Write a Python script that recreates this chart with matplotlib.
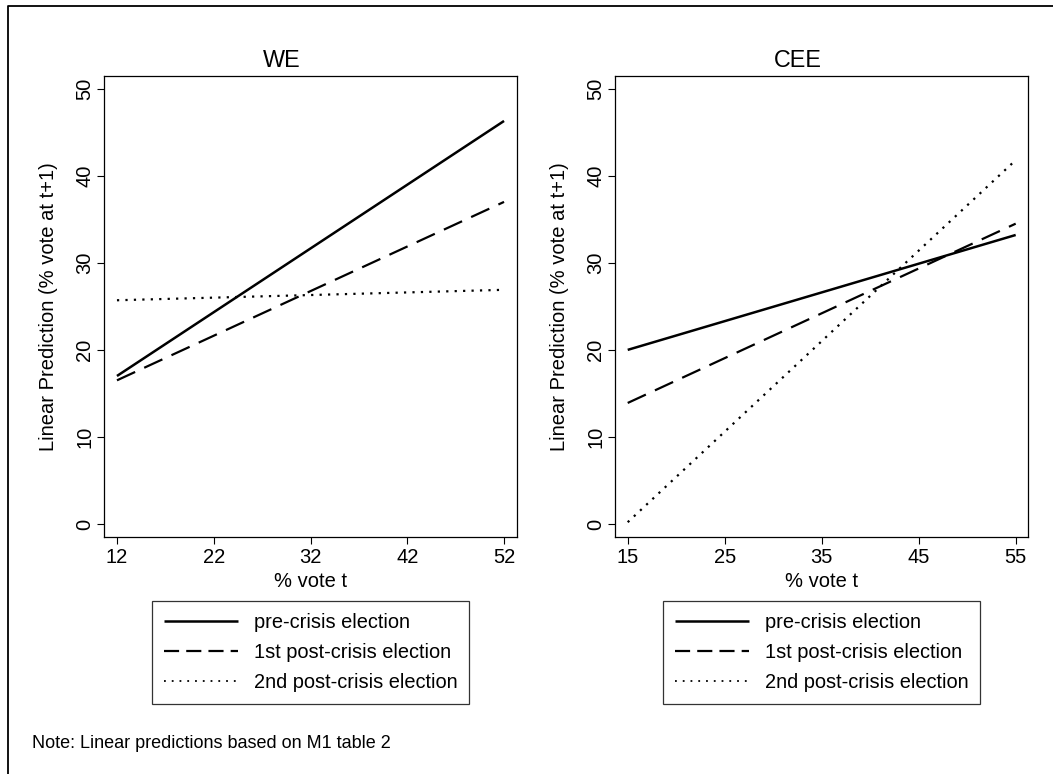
import matplotlib.pyplot as plt
from matplotlib.lines import Line2D

plt.rcParams['font.family'] = ['Liberation Sans', 'DejaVu Sans']

# data (line end points)
we_x = [12, 52]
we_pre = [17.0, 46.3]
we_post1 = [16.5, 37.0]
we_post2 = [25.7, 26.9]

cee_x = [15, 55]
cee_pre = [20.0, 33.2]
cee_post1 = [13.9, 34.5]
cee_post2 = [0.2, 41.8]

we_ticks = [12, 22, 32, 42, 52]
cee_ticks = [15, 25, 35, 45, 55]
y_ticks = [0, 10, 20, 30, 40, 50]
labels = ["pre-crisis election", "1st post-crisis election", "2nd post-crisis election"]

W, H = 1053, 774
plot_styles = [dict(ls='-', lw=1.8),
               dict(ls=(0, (9, 4.5)), lw=1.6),
               dict(ls=(0, (1, 2.8)), lw=1.6)]
leg_styles = [dict(ls='-', lw=1.8),
              dict(ls=(0, (6.8, 3.2)), lw=1.6),
              dict(ls=(0, (1, 3.3)), lw=1.3)]

fig = plt.figure(figsize=(W / 100, H / 100), dpi=100)

def panel(rect, title, title_x, x, series, xticks, xlim):
    ax = fig.add_axes(rect)
    for ys, st in zip(series, plot_styles):
        ax.plot(x, ys, color='black', solid_capstyle='butt', dash_capstyle='butt', **st)
    ax.set_xlim(*xlim)
    ax.set_ylim(-1.5, 51.5)
    ax.set_xticks(xticks)
    ax.set_yticks(y_ticks)
    ax.tick_params(direction='out', length=5, width=0.8, labelsize=14.5, pad=3)
    ax.tick_params(axis='y', pad=2)
    for lab in ax.get_yticklabels():
        lab.set_rotation(90)
        lab.set_va('center')
    for s in ax.spines.values():
        s.set_linewidth(0.9)
    fig.text(title_x / W, 1 - 67 / H, title, fontsize=16.8, ha='center', va='baseline')
    ax.set_xlabel("% vote t", fontsize=14.5)
    ax.set_ylabel("Linear Prediction (% vote at t+1)", fontsize=14.5)
    ax.xaxis.set_label_coords(0.5, -0.075)
    ax.yaxis.set_label_coords(-0.112, 0.5)
    handles = [Line2D([], [], color='black', solid_capstyle='butt',
                      dash_capstyle='butt', **st) for st in leg_styles]
    cx = rect[0] + rect[2] / 2
    leg = ax.legend(handles, labels, loc='upper center', bbox_to_anchor=(cx, 1 - 601 / H),
                    bbox_transform=fig.transFigure, fontsize=14.4, frameon=True,
                    fancybox=False, edgecolor='black', handlelength=3.7,
                    handletextpad=0.8, borderpad=0.6, labelspacing=0.55,
                    borderaxespad=0)
    leg.get_frame().set_linewidth(0.9)
    return ax

panel([104 / W, 1 - 537 / H, 413 / W, 461.3 / H], "WE", 282, we_x,
      [we_pre, we_post1, we_post2], we_ticks, (10.66, 53.34))
panel([615 / W, 1 - 537 / H, 413 / W, 461.3 / H], "CEE", 798, cee_x,
      [cee_pre, cee_post1, cee_post2], cee_ticks, (13.69, 56.27))

fig.text(32 / W, 1 - 748 / H, "Note: Linear predictions based on M1 table 2",
         fontsize=13, va='baseline', ha='left')

# outer frame (only top and left edges visible in the crop)
fig.add_artist(Line2D([8 / W, 8 / W, 1], [0, 1 - 6 / H, 1 - 6 / H],
                      transform=fig.transFigure, color='black', lw=1.3))

fig.savefig("out.png", dpi=100)
